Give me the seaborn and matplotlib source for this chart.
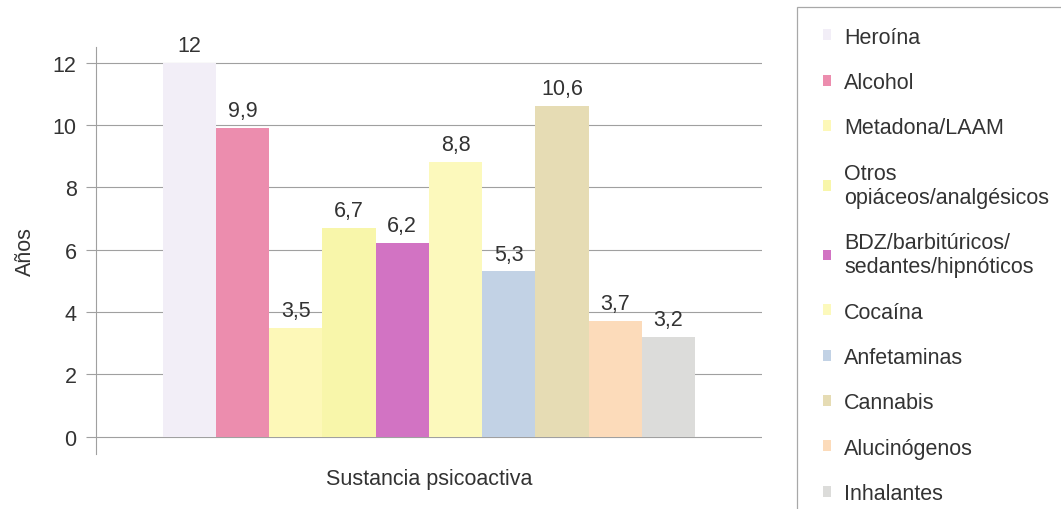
import matplotlib
matplotlib.use("Agg")
import matplotlib.pyplot as plt
from matplotlib.patches import Patch, Rectangle
import seaborn as sns
import pandas as pd

# Años de consumo por sustancia psicoactiva
sustancias = [
    "Heroína",
    "Alcohol",
    "Metadona/LAAM",
    "Otros\nopiáceos/analgésicos",
    "BDZ/barbitúricos/\nsedantes/hipnóticos",
    "Cocaína",
    "Anfetaminas",
    "Cannabis",
    "Alucinógenos",
    "Inhalantes",
]
anos = [12, 9.9, 3.5, 6.7, 6.2, 8.8, 5.3, 10.6, 3.7, 3.2]
colores = [
    "#F2EEF7", "#EC8DAE", "#FDF8B8", "#F8F6AA", "#D273C3",
    "#FCF9BC", "#C2D2E5", "#E6DCB4", "#FCDBBA", "#DCDCDA",
]
y_ticks = [0, 2, 4, 6, 8, 10, 12]

sns.set_theme(style="white")
plt.rcParams["font.family"] = ["Liberation Sans", "DejaVu Sans"]
texto = "#333333"
gris = "#a0a0a0"

df = pd.DataFrame({"grupo": [""] * len(sustancias), "sustancia": sustancias, "anos": anos})

fig = plt.figure(figsize=(10.61, 5.10), dpi=100)
ax = fig.add_axes([0.0905, 0.108, 0.6275, 0.798])

sns.barplot(
    data=df, x="grupo", y="anos", hue="sustancia", hue_order=sustancias,
    palette=colores, saturation=1, width=0.8, legend=False, ax=ax,
    linewidth=0, errorbar=None,
)

for cont, v in zip(ax.containers, anos):
    etiqueta = f"{v:g}".replace(".", ",")
    ax.bar_label(cont, labels=[etiqueta], padding=5, fontsize=15.5, color=texto)

ax.set_xlim(-0.5, 0.5)
ax.set_ylim(-0.55, 12.5)
ax.set_yticks(y_ticks)
ax.tick_params(axis="y", labelsize=15.5, colors=texto, length=7, width=0.8,
               color=gris, left=True, pad=7)
ax.tick_params(axis="x", bottom=False, labelbottom=False)
ax.yaxis.grid(True, color=gris, linewidth=0.8)
ax.set_axisbelow(True)
for lado in ["top", "right", "bottom"]:
    ax.spines[lado].set_visible(False)
ax.spines["left"].set_color(gris)
ax.spines["left"].set_linewidth(0.8)

ax.set_xlabel("Sustancia psicoactiva", fontsize=15.5, color=texto, labelpad=10)
ax.set_ylabel("Años", fontsize=15.5, color=texto, labelpad=12)

# Marco de la leyenda
fig.add_artist(Rectangle((0.751, -0.2), 0.5, 1.184, transform=fig.transFigure,
                         fill=False, edgecolor="#a8a8a8", linewidth=0.9))

handles = [Patch(facecolor=c, edgecolor="none") for c in colores]
fig.legend(
    handles, sustancias, loc="upper left", bbox_to_anchor=(0.757, 0.984),
    frameon=False, fontsize=15.5, handlelength=0.4, handleheight=0.4,
    handletextpad=0.6, labelspacing=1.13, labelcolor=texto,
)

fig.savefig("out.png", dpi=100)
